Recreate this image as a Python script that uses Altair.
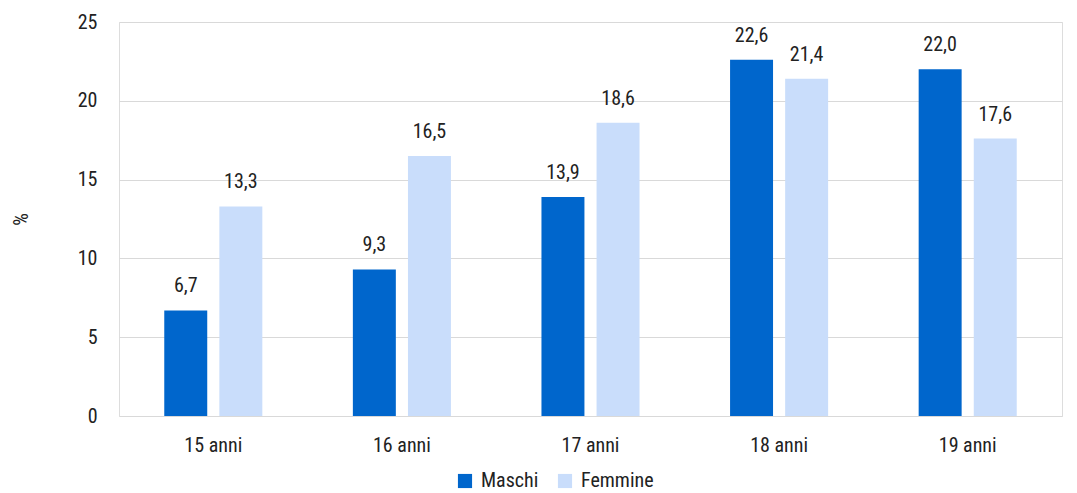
import altair as alt
import pandas as pd

categories = ["15 anni", "16 anni", "17 anni", "18 anni", "19 anni"]
maschi = [6.7, 9.3, 13.9, 22.6, 22.0]
femmine = [13.3, 16.5, 18.6, 21.4, 17.6]
series = ["Maschi", "Femmine"]
colors = ["#0066CC", "#C9DDFB"]
y_ticks = [0, 5, 10, 15, 20, 25]

rows = []
for c, m, f in zip(categories, maschi, femmine):
    rows.append({"eta": c, "sesso": "Maschi", "val": m, "lab": f"{m:.1f}".replace(".", ",")})
    rows.append({"eta": c, "sesso": "Femmine", "val": f, "lab": f"{f:.1f}".replace(".", ",")})
df = pd.DataFrame(rows)

FONT = "Roboto Condensed, Roboto, sans-serif"
TXT = "#222222"
FS = 20
FW = 400

x = alt.X("eta:N", sort=categories, title=None,
          scale=alt.Scale(paddingInner=0.48, paddingOuter=0.24),
          axis=alt.Axis(labelAngle=0, ticks=False, domain=False, labelPadding=19,
                        labelFontSize=FS, labelFontWeight=FW, labelColor=TXT, labelFont=FONT))
xo = alt.XOffset("sesso:N", sort=series, scale=alt.Scale(paddingInner=0.22, paddingOuter=0))
y = alt.Y("val:Q", title="%",
          scale=alt.Scale(domain=[0, 25], nice=False),
          axis=alt.Axis(values=y_ticks, ticks=False, domain=False, labelPadding=22,
                        labelFontSize=FS, labelFontWeight=FW, labelColor=TXT, labelFont=FONT,
                        gridColor="#D9D9D9", gridWidth=1.2,
                        titleFontSize=FS, titleFont=FONT, titleColor=TXT,
                        titleFontWeight=FW, titlePadding=46))

bars = alt.Chart(df).mark_bar().encode(
    x=x, xOffset=xo, y=y,
    color=alt.Color("sesso:N", sort=series,
                    scale=alt.Scale(domain=series, range=colors),
                    legend=alt.Legend(title=None, orient="none", direction="horizontal",
                                      legendX=336, legendY=449,
                                      symbolType="square", symbolSize=200,
                                      symbolStrokeWidth=0,
                                      labelFontSize=FS, labelFontWeight=FW, labelFont=FONT,
                                      labelColor=TXT, columnPadding=16, labelOffset=6)),
)

labels = alt.Chart(df).mark_text(baseline="bottom", dy=-14, fontSize=FS, fontWeight=FW,
                                 font=FONT, color=TXT).encode(
    x=alt.X("eta:N", sort=categories),
    xOffset=xo,
    y="val:Q",
    text="lab:N",
)

chart = (bars + labels).properties(
    width=943, height=394,
    autosize=alt.AutoSizeParams(type="none"),
    padding={"left": 111, "top": 14, "right": 7, "bottom": 77},
).configure_view(stroke=None).configure(background="white")

chart.save("out.html", embed_options={"renderer": "svg", "actions": False})
